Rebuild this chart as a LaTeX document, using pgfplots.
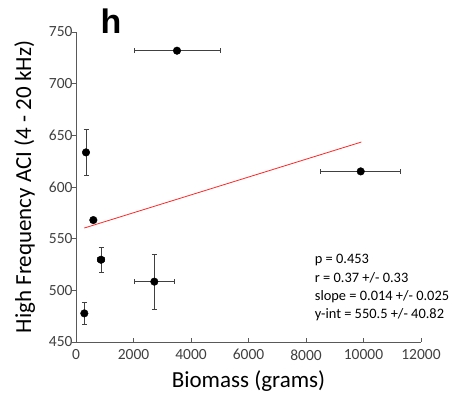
\documentclass[border=0pt]{standalone}
\usepackage{fontspec}
\setmainfont{Carlito}
\newfontfamily\arialb{Liberation Sans}
\usepackage{pgfplots}
\pgfplotsset{compat=1.18}
\usepackage{pgfplotstable}
\definecolor{axgray}{HTML}{595959}
\definecolor{txtgray}{HTML}{404040}
\pgfplotstableread{
x y ex ey
289 477.7 0 11
603 568 40 2
870 529.6 130 12
2724 508.4 690 26.5
348 633.5 0 22
3513 731.9 1495 0
9903 615.1 1385 0
}\pts
\begin{document}
\begin{tikzpicture}
\useasboundingbox (-76pt,-53pt) rectangle (377pt,342pt);
\begin{axis}[
  at={(0,0)}, anchor=south west,
  scale only axis, width=345pt, height=310pt,
  xmin=0, xmax=12000, ymin=450, ymax=750,
  axis x line*=bottom, axis y line*=left,
  axis line style={axgray, line width=0.8pt},
  xtick={0,2000,...,12000}, ytick={450,500,...,750},
  scaled x ticks=false,
  /pgf/number format/assume math mode=true,
  /pgf/number format/set thousands separator={},
  tick label style={font=\fontsize{15.5}{18}\selectfont, text=txtgray},
  xticklabel style={yshift=-4pt},
  major tick length=4pt, tick align=inside,
  tick style={axgray, line width=0.8pt},
  ytick style={xshift=-4pt},
  xlabel={Biomass (grams)}, ylabel={High Frequency ACI (4 - 20 kHz)},
  label style={font=\fontsize{23}{25}\selectfont},
  xlabel style={yshift=-4pt},
  ylabel style={yshift=7pt},
  clip=false,
]
\addplot[red!85!white, line width=0.8pt] coordinates {(289,560.3) (9925,643.5)};
\addplot[only marks, mark=*, mark size=3.8pt, mark options={black, fill=black},
  error bars/.cd, x dir=both, x explicit, y dir=both, y explicit,
  error bar style={txtgray, line width=0.8pt},
  error mark options={rotate=90, mark size=2.5pt, txtgray, line width=0.8pt}]
  table[x=x, y=y, x error=ex, y error=ey] {\pts};
\node[anchor=west, font=\arialb\bfseries\fontsize{34}{36}\selectfont, inner sep=0pt] at (axis cs:850,760.4) {h};
\node[anchor=base west, align=left, inner sep=0pt, font=\fontsize{14.4}{18.3}\selectfont] at (axis cs:8303,472.5) {p = 0.453\\ r = 0.37 +/- 0.33\\ slope = 0.014 +/- 0.025\\ y-int = 550.5 +/- 40.82};
\end{axis}
\end{tikzpicture}
\end{document}
